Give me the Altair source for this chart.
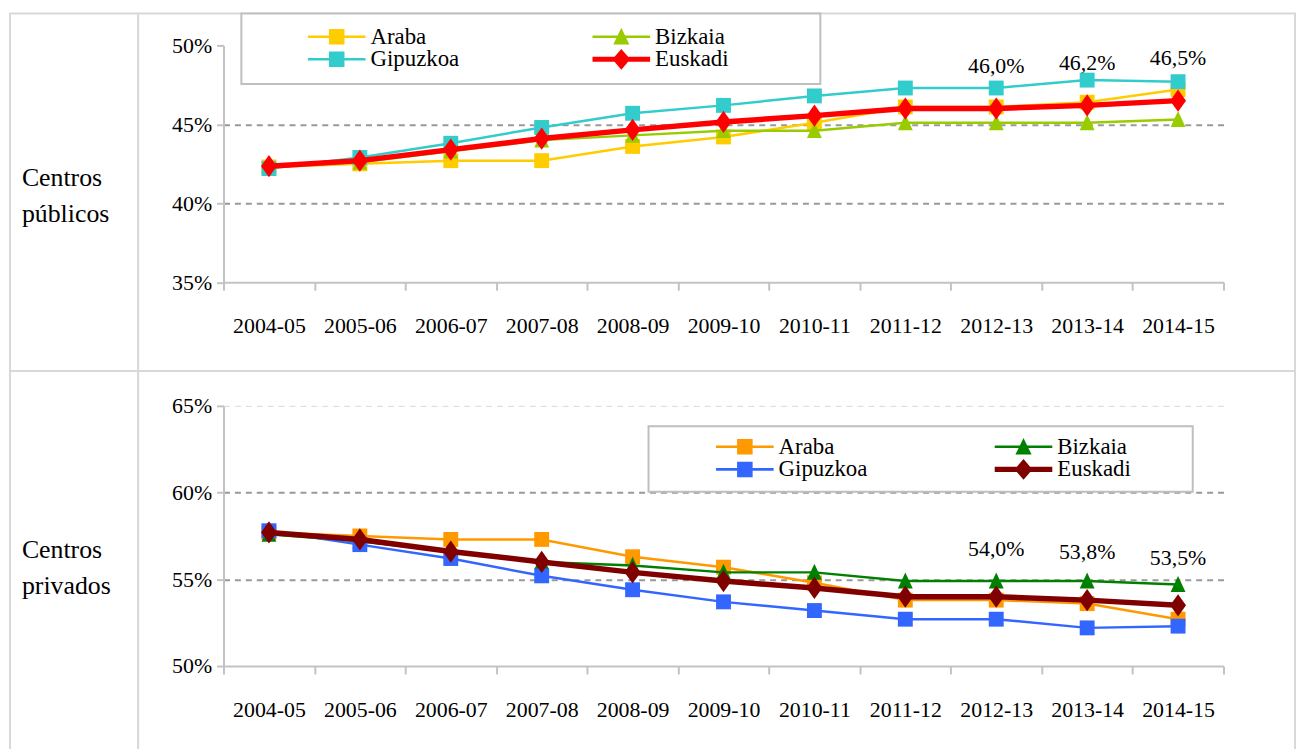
import altair as alt
import pandas as pd

years = ["2004-05", "2005-06", "2006-07", "2007-08", "2008-09", "2009-10",
         "2010-11", "2011-12", "2012-13", "2013-14", "2014-15"]
series = ["Araba", "Bizkaia", "Gipuzkoa", "Euskadi"]

# Centros públicos (%)
pub_araba = [42.3, 42.5, 42.7, 42.7, 43.6, 44.2, 45.1, 46.1, 46.1, 46.4, 47.2]
pub_bizkaia = [42.3, 42.6, 43.3, 44.0, 44.3, 44.6, 44.6, 45.1, 45.1, 45.1, 45.3]
pub_gipuzkoa = [42.2, 42.9, 43.8, 44.8, 45.7, 46.2, 46.8, 47.3, 47.3, 47.8, 47.7]
pub_euskadi = [42.35, 42.7, 43.4, 44.1, 44.65, 45.15, 45.55, 46.0, 46.0, 46.2, 46.5]
pub_labels = ["46,0%", "46,2%", "46,5%"]

# Centros privados (%)
priv_araba = [57.7, 57.5, 57.3, 57.3, 56.3, 55.7, 54.8, 53.8, 53.8, 53.6, 52.7]
priv_bizkaia = [57.6, 57.2, 56.6, 56.0, 55.8, 55.4, 55.4, 54.9, 54.9, 54.9, 54.7]
priv_gipuzkoa = [57.8, 57.0, 56.2, 55.2, 54.4, 53.7, 53.2, 52.7, 52.7, 52.2, 52.3]
priv_euskadi = [57.7, 57.3, 56.6, 56.0, 55.4, 54.9, 54.5, 54.0, 54.0, 53.8, 53.5]
priv_labels = ["54,0%", "53,8%", "53,5%"]

pub_colors = ["#FFCC00", "#99CC00", "#33CCCC", "#FF0000"]
priv_colors = ["#FF9900", "#008000", "#3366FF", "#800000"]

row_titles = [["Centros", "públicos"], ["Centros", "privados"]]

FONT = "Liberation Serif"
AX = "#c3c3c3"
CELL_W = 129
CHART_W = 1165
X_RANGE = [86, 1093]

# marker shapes in the plot
TRI = "M0,-1.15L1,1H-1Z"
DIA = "M0,-1.4L1,0L0,1.4L-1,0Z"
marker_shapes = ["square", TRI, "square", DIA]
marker_sizes = [225, 225, 225, 256]
line_widths = [2.5, 2.5, 2.5, 5.5]

# legend symbols: line segment + marker (units of half-width 29 px)
LEG_SIZE = 58 * 58
thin = "M-1,-0.045H1V0.045H-1Z"
thick = "M-1,-0.09H1V0.09H-1Z"
leg_sq = "M-0.27,-0.27H0.27V0.27H-0.27Z"
leg_tri = "M0,-0.31L0.28,0.27H-0.28Z"
leg_dia = "M0,-0.36L0.31,0L0,0.36L-0.31,0Z"
legend_paths = [thin + leg_sq, thin + leg_tri, thin + leg_sq, thick + leg_dia]


def panel(vals, colors, labels, ydomain, yrange, yvals, height, label_dy, leg):
    rows = []
    for s, arr in zip(series, vals):
        for yr, v in zip(years, arr):
            rows.append({"year": yr, "series": s, "value": v})
    df = pd.DataFrame(rows)
    lo, hi = ydomain

    x = alt.X(
        "year:N", sort=years, title=None,
        scale=alt.Scale(type="band", domain=years, range=X_RANGE,
                        paddingInner=0, paddingOuter=0),
        axis=alt.Axis(labelAngle=0, tickBand="extent", tickExtra=True, tickSize=8,
                      tickWidth=2, tickColor=AX, domainColor=AX, domainWidth=2,
                      labelFont=FONT, labelFontSize=22, labelColor="black",
                      labelPadding=26, grid=False, offset=yrange[0] - height),
    )
    y = alt.Y(
        "value:Q", title=None,
        scale=alt.Scale(domain=ydomain, range=yrange, nice=False, zero=False),
        axis=alt.Axis(values=yvals, labelExpr="datum.value + '%'", offset=-X_RANGE[0],
                      tickSize=7, tickWidth=2, tickColor=AX, domainColor=AX,
                      domainWidth=2, labelFont=FONT, labelFontSize=22,
                      labelColor="black", labelPadding=5, grid=True,
                      gridDash=[6, 5],
                      gridColor={"condition": {"test": f"datum.value == {hi}", "value": "#d9d9d9"},
                                 "value": "#999999"},
                      gridWidth={"condition": {"test": f"datum.value == {hi}", "value": 1},
                                 "value": 2},
                      gridOpacity={"condition": {"test": f"datum.value == {lo} || datum.value == {leg['hide']}",
                                                 "value": 0},
                                   "value": 1}),
    )

    layers = []
    for s, c, shp, sz, sw in zip(series, colors, marker_shapes, marker_sizes, line_widths):
        base = alt.Chart(df).transform_filter(alt.datum.series == s)
        layers.append(base.mark_line(color=c, strokeWidth=sw).encode(x=x, y=y))
        layers.append(base.mark_point(shape=shp, size=sz, filled=True, opacity=1,
                                      color=c, strokeWidth=0).encode(x=x, y=y))

    lab_df = pd.DataFrame({"year": years[-3:], "value": vals[3][-3:], "label": labels})
    layers.append(
        alt.Chart(lab_df).mark_text(font=FONT, fontSize=22, dy=label_dy, color="black",
                                    baseline="middle")
        .encode(x=x, y=y, text="label:N")
    )

    legend = alt.Legend(
        title=" ", orient="none", legendX=leg["x"], legendY=leg["y"],
        columns=2, direction="horizontal", columnPadding=leg["cp"], rowPadding=-2,
        gridAlign="each", clipHeight=21, padding=leg["pad"], titleOrient="right",
        titleFontSize=1, titlePadding=leg["tpad"],
        symbolOffset=leg["so"], labelOffset=5,
        symbolSize=LEG_SIZE, symbolStrokeWidth=0, symbolOpacity=1,
        labelFont=FONT, labelFontSize=23, labelColor="black", labelBaseline="middle",
        strokeColor="#bfbfbf", fillColor="white",
    )
    layers.append(
        alt.Chart(df).transform_filter("false")
        .mark_point(filled=True, opacity=1, size=LEG_SIZE)
        .encode(
            color=alt.Color("series:N", sort=series,
                            scale=alt.Scale(domain=series, range=colors), legend=legend),
            shape=alt.Shape("series:N", sort=series,
                            scale=alt.Scale(domain=series, range=legend_paths),
                            legend=legend),
        )
    )
    return alt.layer(*layers).properties(width=CHART_W, height=height)


def label_cell(lines, height, yc):
    return (
        alt.Chart(pd.DataFrame({"k": [0]}))
        .mark_text(align="left", baseline="middle", font=FONT, fontSize=26,
                   lineHeight=36, color="black", text=lines)
        .encode(x=alt.value(12), y=alt.value(yc))
        .properties(width=CELL_W, height=height)
    )


H1, H2 = 360, 390

p1 = panel([pub_araba, pub_bizkaia, pub_gipuzkoa, pub_euskadi], pub_colors, pub_labels,
           [35, 50], [270.5, 32], [35, 40, 45, 50], H1, -43,
           dict(x=104, y=0, cp=79.6, pad=12.5, tpad=80, so=54.5, hide=50))
p2 = panel([priv_araba, priv_bizkaia, priv_gipuzkoa, priv_euskadi], priv_colors, priv_labels,
           [50, 65], [297, 35], [50, 55, 60, 65], H2, -48,
           dict(x=514, y=55.5, cp=69.6, pad=10, tpad=52, so=58, hide=50))

chart = (
    alt.concat(label_cell(row_titles[0], H1, 166), p1,
               label_cell(row_titles[1], H2, 180), p2,
               columns=2, spacing=0, align="each", bounds="flush")
    .resolve_scale(color="independent", shape="independent",
                   x="independent", y="independent")
    .properties(padding=1)
    .configure_view(stroke="#d9d9d9", strokeWidth=2)
    .configure_legend(strokeWidth=2)
)

chart.save("out.html", embed_options={"renderer": "svg", "actions": False})
